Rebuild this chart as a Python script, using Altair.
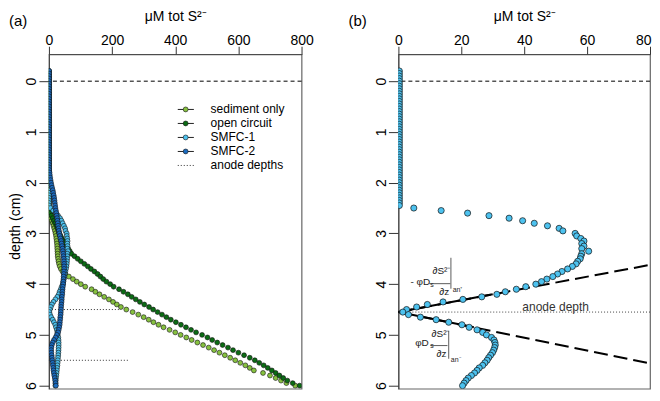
import altair as alt
import pandas as pd

# ---------------- data ----------------
DEPTH = [round(-0.20 + 0.05 * i, 2) for i in range(125)]  # -0.20 .. 6.00 cm

SERIES = ["sediment only", "open circuit", "SMFC-1", "SMFC-2"]
COLORS = ["#86c13f", "#0b6b14", "#4dc2ef", "#1b6bbf"]

SED_ONLY = [
    0, 0, 0, 0, 0, 0, 0, 0, 0, 0,
    0, 0, 0, 0, 0, 0, 0, 0, 0, 0,
    0, 0, 0, 0, 0, 0, 0, 0, 0, 0,
    0, 0, 0, 0, 0, 0, 0, 0, 0, 0,
    0, 0, 0, 0, 0, 0, 0, 0, 0, 0,
    0, 0, 0, 0, 0, 0,
    1.0, 3.0, 6.0, 9.0, 12.0, 14.5, 17.0, 19.0,
    21.0, 22.5, 23.5, 24.5, 25.5, 26.0, 26.5, 27.0, 27.5, 28.0,
    29.0, 30.5, 32.0, 34.5, 38.0, 43.0, 52.0, 63.0, 76.0, 88.0,
    101.0, 115.0, 135.0, 147.0, 160.0, 175.0, 190.0, 203.0, 215.0, 228.0,
    245.0, 265.0, 283.0, 300.0, 316.0, 331.0, 347.0, 363.0, 382.0, 400.0,
    417.0, 435.0, 452.0, 470.0, 488.0, 506.0, 523.0, 540.0, 557.0, 574.0,
    590.0, 606.0, 622.0, 636.0, 649.0, 678.0, 700.0, 718.0, 735.0, 752.0,
    780.0,
]

OPEN_CIRCUIT = [
    0, 0, 0, 0, 0, 0, 0, 0, 0, 0,
    0, 0, 0, 0, 0, 0, 0, 0, 0, 0,
    0, 0, 0, 0, 0, 0, 0, 0, 0, 0,
    0, 0, 0, 0, 0, 0, 0, 0, 0, 0,
    0, 0, 0, 0, 0, 0, 0, 0, 0, 0,
    0, 0, 0, 0, 0,
    2.0, 5.0, 8.0, 12.0, 16.0, 20.0, 24.0, 27.0, 30.0,
    33.0, 37.0, 41.0, 45.0, 49.0, 55.0, 61.0, 66.0, 71.0, 81.0,
    91.0, 101.0, 112.0, 123.0, 133.0, 144.0, 154.0, 163.0, 172.0, 182.0,
    194.0, 205.0, 222.0, 236.0, 250.0, 262.0, 275.0, 288.0, 302.0, 317.0,
    330.0, 344.0, 358.0, 372.0, 386.0, 402.0, 418.0, 434.0, 450.0, 466.0,
    485.0, 502.0, 517.0, 533.0, 550.0, 567.0, 583.0, 600.0, 618.0, 636.0,
    652.0, 666.0, 680.0, 693.0, 706.0, 718.0, 730.0, 742.0, 755.0, 772.0,
    794.0,
]

SMFC1 = [
    0.3, 0.3, 0.3, 0.3, 0.3, 0.3, 0.3, 0.3, 0.3, 0.3,
    0.3, 0.3, 0.3, 0.3, 0.3, 0.3, 0.3, 0.3, 0.3, 0.3,
    0.3, 0.3, 0.3, 0.3, 0.3, 0.3, 0.3, 0.3, 0.3, 0.3,
    0.3, 0.3, 0.3, 0.3, 0.3, 0.3, 0.3, 0.3, 0.3, 0.3,
    0.3, 0.3, 0.3, 0.3, 0.3, 0.3, 0.3, 0.3, 0.3, 0.3,
    0.3, 0.3, 0.3, 0.3,
    4.9, 13.6, 22.0, 28.8, 35.2, 39.5, 43.2, 47.4, 51.1, 52.3,
    56.2, 56.7, 58.0, 59.0, 58.3, 59.0, 58.3, 60.5, 58.3, 58.0,
    57.8, 57.0, 56.5, 55.3, 53.8, 52.0, 50.6, 49.1, 47.2, 45.5,
    43.7, 40.5, 37.5, 34.0, 31.3, 26.5, 20.5, 14.2, 9.2, 5.8,
    2.6, 1.4, 3.2, 7.0, 12.0, 16.0, 20.2, 22.5, 25.0, 26.8,
    28.0, 29.6, 30.4, 30.7, 30.8, 30.6, 30.3, 29.9, 29.3, 28.7,
    28.2, 27.5, 26.8, 25.7, 25.0, 24.2, 23.2, 22.2, 21.5, 20.9,
    20.4,
]

SMFC2 = [
    0.5, 0.5, 0.5, 0.5, 0.5, 0.5, 0.5, 0.5, 0.5, 0.5,
    0.5, 0.5, 0.5, 0.5, 0.5, 0.5, 0.5, 0.5, 0.5, 0.5,
    0.5, 0.5, 0.5, 0.5, 0.5, 0.5, 0.5, 0.5, 0.5, 0.5,
    0.5, 0.5, 0.5, 0.5, 0.5, 0.5, 0.5, 0.5, 0.5,
    1.0, 1.8, 2.8, 3.8, 5.0,
    6.5, 8.0, 10.0, 12.0, 13.5, 15.0, 16.5, 17.5, 18.5, 19.5,
    20.5, 22.0, 23.5, 24.5, 26.0, 27.0, 28.0, 29.0, 30.5, 31.5,
    33.0, 34.5, 36.5, 38.5, 40.0, 41.5, 43.0, 44.0, 45.0, 46.0,
    47.0, 47.5, 48.0, 48.0, 48.0, 47.5, 47.0, 46.5, 46.0, 45.5,
    45.0, 44.0, 43.0, 42.5, 42.0, 41.0, 40.5, 40.0, 39.0, 38.5,
    38.0, 37.5, 37.0, 36.0, 35.5, 34.5, 34.0, 32.5, 31.0, 29.0,
    25.0, 21.0, 16.0, 12.0, 9.0, 7.5, 7.0, 7.5, 8.5, 9.5,
    10.5, 11.5, 12.5, 13.5, 14.5, 15.5, 17.0, 18.5, 20.0, 21.0,
    22.0,
]

X_TICKS_A = [0, 200, 400, 600, 800]
X_TICKS_B = [0, 20, 40, 60, 80]
Y_TICKS = [0, 1, 2, 3, 4, 5, 6]

SURFACE_DEPTH = [0.0]
ANODE_DEPTHS_A = [4.5, 5.5]
ANODE_START_A = [0, 0]
ANODE_END_A = [228, 252]
ANODE_DEPTH_B = [4.55]

# flux tangent lines in panel (b)
TAN_V = [0, 80]
TAN_UP_D = [4.55, 3.62]
TAN_DN_D = [4.55, 5.56]
SOLID_UP_V = [0, 30]
SOLID_UP_D = [4.55, 4.20]
SOLID_DN_V = [0, 24]
SOLID_DN_D = [4.55, 4.85]

LEGEND_LABELS = SERIES + ["anode depths"]

FORMULA_TEXT = ["∂S²⁻", "- φD", "s", "∂z", "an⁺", "∂S²⁻", "φD", "s", "∂z", "an⁻"]
FORMULA_V = [13.7, 7.0, 10.7, 14.6, 18.8, 13.4, 7.5, 10.7, 13.7, 18.2]
FORMULA_D = [3.75, 3.95, 4.01, 4.15, 4.12, 4.99, 5.15, 5.21, 5.37, 5.50]
FORMULA_FS = [10, 10, 7, 10, 7, 10, 10, 7, 10, 7]
SEG_V = [9.8, 16.7, 10.2, 16.0]
SEG_V2 = [16.5, 16.7, 15.6, 16.0]
SEG_D = [3.99, 3.48, 5.21, 4.92]
SEG_D2 = [3.99, 4.09, 5.21, 5.47]

ANODE_LABEL = ["anode depth"]
ANODE_LABEL_V = [50.0]
ANODE_LABEL_D = [4.45]

# ---------------- frames ----------------
def series_frame(name, vals):
    d = DEPTH[len(DEPTH) - len(vals):]
    return pd.DataFrame({"series": name, "d": d, "v": vals})

df_a = pd.concat(
    [series_frame(n, v) for n, v in zip(SERIES, [SED_ONLY, OPEN_CIRCUIT, SMFC1, SMFC2])],
    ignore_index=True,
)
df_b = series_frame("SMFC-1", SMFC1)

FONT = "Liberation Sans"
H = 335
Y_SCALE = alt.Scale(domain=[-0.531, 6.06], reverse=True, nice=False, zero=False)
TITLE = "μM tot S²⁻"


def y_enc(title=True, field="d"):
    kw = dict(values=Y_TICKS, format="d", labelAngle=-90, labelAlign="center",
              labelBaseline="alphabetic", labelPadding=3, tickSize=10, grid=False,
              labelFlush=False)
    if title:
        return alt.Y(f"{field}:Q", scale=Y_SCALE,
                     axis=alt.Axis(title="depth (cm)", titleX=-26, titleY=172, titleAngle=-90,
                                   titleBaseline="bottom", titleAlign="center", **kw))
    return alt.Y(f"{field}:Q", scale=Y_SCALE, axis=alt.Axis(title=None, **kw))


def x_enc(domain, ticks, field="v", flush_last=False):
    kw = dict(orient="top", values=ticks, format="d", labelFlush=False,
              labelPadding=2, labelBaseline="alphabetic", tickSize=8,
              title=TITLE, titleY=-34, titleBaseline="alphabetic", grid=False)
    if flush_last:
        kw["labelAlign"] = {"condition": {"test": f"datum.value == {ticks[-1]}", "value": "right"},
                            "value": "center"}
        kw["labelOffset"] = {"condition": {"test": f"datum.value == {ticks[-1]}", "value": 1},
                             "value": 0}
    return alt.X(f"{field}:Q", scale=alt.Scale(domain=domain, nice=False, zero=False),
                 axis=alt.Axis(**kw))

COLOR = alt.Color("series:N", scale=alt.Scale(domain=SERIES, range=COLORS), legend=None)

# ---------------- panel (a) ----------------
XA = x_enc([0, 800], X_TICKS_A)
YA = y_enc(True)

surf_a = alt.Chart(pd.DataFrame({"d": SURFACE_DEPTH})).mark_rule(
    color="black", strokeDash=[4, 3], strokeWidth=1).encode(y=YA)

anode_a = alt.Chart(pd.DataFrame({"d": ANODE_DEPTHS_A, "v": ANODE_START_A, "v2": ANODE_END_A})).mark_rule(
    color="#333", strokeDash=[1, 2], strokeWidth=1).encode(x=XA, x2="v2:Q", y=YA)

pts_a = alt.Chart(df_a).mark_circle(size=24, opacity=1, stroke="#111", strokeWidth=0.6, clip=True).encode(
    x=XA, y=YA, color=COLOR)

leg = pd.DataFrame({
    "series": LEGEND_LABELS,
    "d": [0.557 + 0.276 * i for i in range(len(LEGEND_LABELS))],
    "v": [408] * len(LEGEND_LABELS),
    "v2": [459] * len(LEGEND_LABELS),
    "vp": [433] * len(LEGEND_LABELS),
    "vt": [512] * len(LEGEND_LABELS),
})
leg_lines = alt.Chart(leg.iloc[:4]).mark_rule(color="#222", strokeWidth=1).encode(x=XA, x2="v2:Q", y=YA)
leg_dot = alt.Chart(leg.iloc[4:]).mark_rule(color="#333", strokeDash=[1, 2], strokeWidth=1).encode(
    x=XA, x2="v2:Q", y=YA)
leg_pts = alt.Chart(leg.iloc[:4]).mark_circle(size=24, opacity=1, stroke="#111", strokeWidth=0.6).encode(
    x=x_enc([0, 800], X_TICKS_A, "vp"), y=YA, color=COLOR)
leg_txt = alt.Chart(leg).mark_text(align="left", baseline="middle", fontSize=12, font=FONT, color="black").encode(
    x=x_enc([0, 800], X_TICKS_A, "vt"), y=YA, text="series:N")

lab_a = alt.Chart(pd.DataFrame({"t": ["(a)"]})).mark_text(
    align="left", baseline="middle", fontSize=15, font=FONT, color="black").encode(
    x=alt.value(-40), y=alt.value(-33), text="t:N")

panel_a = alt.layer(surf_a, anode_a, pts_a, leg_lines, leg_dot, leg_pts, leg_txt, lab_a).properties(
    width=253, height=H)

# ---------------- panel (b) ----------------
XB = x_enc([0, 80], X_TICKS_B, flush_last=True)
YB = y_enc(False)

surf_b = alt.Chart(pd.DataFrame({"d": SURFACE_DEPTH})).mark_rule(
    color="black", strokeDash=[4, 3], strokeWidth=1).encode(y=YB)
anode_b = alt.Chart(pd.DataFrame({"d": ANODE_DEPTH_B})).mark_rule(
    color="#444", strokeDash=[1, 2], strokeWidth=1).encode(y=YB)

tan = pd.DataFrame({
    "line": ["up", "up", "dn", "dn"],
    "v": TAN_V + TAN_V,
    "d": TAN_UP_D + TAN_DN_D,
})
tan_lines = alt.Chart(tan).mark_line(color="black", strokeWidth=2, strokeDash=[14, 6], clip=True).encode(
    x=XB, y=YB, detail="line:N")
solid = pd.DataFrame({
    "line": ["up", "up", "dn", "dn"],
    "v": SOLID_UP_V + SOLID_DN_V,
    "d": SOLID_UP_D + SOLID_DN_D,
})
solid_lines = alt.Chart(solid).mark_line(color="black", strokeWidth=2, clip=True).encode(
    x=XB, y=YB, detail="line:N")

pts_b = alt.Chart(df_b).mark_circle(size=38, opacity=1, color=COLORS[2], stroke="#111",
                                    strokeWidth=0.7, clip=True).encode(x=XB, y=YB)

anode_txt = alt.Chart(pd.DataFrame({"t": ANODE_LABEL, "v": ANODE_LABEL_V, "d": ANODE_LABEL_D})).mark_text(
    align="center", baseline="middle", fontSize=12, font=FONT, color="#333").encode(x=XB, y=YB, text="t:N")

formula = alt.Chart(pd.DataFrame({"t": FORMULA_TEXT, "v": FORMULA_V, "d": FORMULA_D, "fs": FORMULA_FS})).mark_text(
    align="center", baseline="middle", font=FONT, color="#222").encode(
    x=XB, y=YB, text="t:N", size=alt.Size("fs:Q", scale=None))
segs = alt.Chart(pd.DataFrame({"v": SEG_V, "v2": SEG_V2, "d": SEG_D, "d2": SEG_D2})).mark_rule(
    color="#333", strokeWidth=0.8).encode(x=XB, x2="v2:Q", y=YB, y2="d2:Q")

lab_b = alt.Chart(pd.DataFrame({"t": ["(b)"]})).mark_text(
    align="left", baseline="middle", fontSize=15, font=FONT, color="black").encode(
    x=alt.value(-50), y=alt.value(-33), text="t:N")

panel_b = alt.layer(surf_b, anode_b, tan_lines, solid_lines, pts_b, anode_txt, formula, segs, lab_b).properties(
    width=252, height=H)

chart = alt.hconcat(panel_a, panel_b, spacing=97, bounds="flush").properties(
    padding={"left": 0, "top": 0, "right": 0, "bottom": 0}
).configure(font=FONT).configure_view(
    stroke="#666", strokeWidth=1.2
).configure_axis(
    labelFont=FONT, titleFont=FONT, labelFontSize=14, titleFontSize=14,
    titleFontWeight="normal", labelColor="black", titleColor="black",
    tickColor="#333", domainColor="#444",
)

chart.save("out.html", embed_options={"renderer": "svg", "actions": False})
